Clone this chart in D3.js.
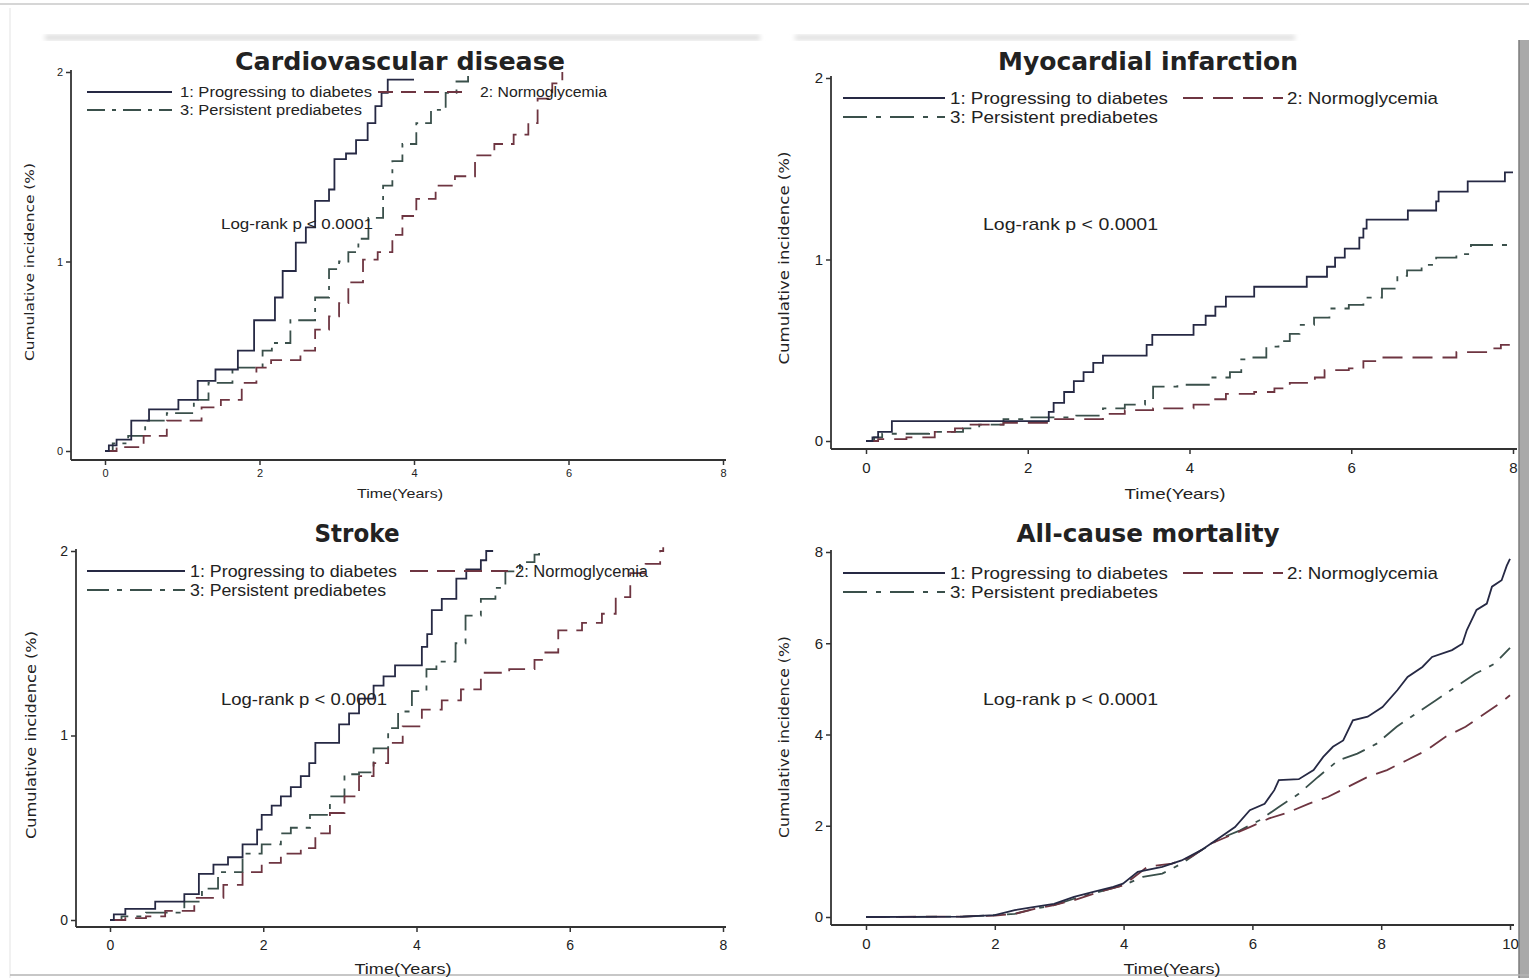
<!DOCTYPE html>
<html>
<head>
<meta charset="utf-8">
<script src="https://cdn.jsdelivr.net/npm/d3@7"></script>
<style>
body { margin: 0; background: #fff; }
svg text { fill: #222; }
</style>
</head>
<body>
<svg id="chart" width="1529" height="978"></svg>
<script>

// ---- data ----
var seriesLabels = ["1: Progressing to diabetes", "2: Normoglycemia", "3: Persistent prediabetes"];
var titles = ["Cardiovascular disease", "Myocardial infarction", "Stroke", "All-cause mortality"];
var xTicks8 = [0, 2, 4, 6, 8];
var xTicks10 = [0, 2, 4, 6, 8, 10];
var yTicks2 = [0, 1, 2];
var yTicks8 = [0, 2, 4, 6, 8];

// [time (years), cumulative incidence (%)]
var cvdProg = [[0,0],[0.05,0.03],[0.15,0.06],[0.34,0.16],[0.57,0.22],[0.95,0.27],[1.2,0.37],[1.43,0.43],[1.72,0.53],[1.93,0.69],[2.2,0.81],[2.3,0.95],[2.47,1.1],[2.6,1.18],[2.72,1.32],[2.9,1.38],[2.97,1.54],[3.12,1.57],[3.25,1.64],[3.4,1.73],[3.5,1.82],[3.58,1.89],[3.66,1.96],[4.0,1.96]];
var cvdNormo = [[0,0],[0.15,0.02],[0.5,0.08],[0.8,0.16],[1.25,0.23],[1.5,0.27],[1.77,0.36],[1.96,0.44],[2.15,0.48],[2.53,0.53],[2.72,0.64],[2.9,0.71],[3.03,0.78],[3.15,0.89],[3.34,1.01],[3.53,1.05],[3.72,1.14],[3.85,1.24],[4.03,1.33],[4.28,1.4],[4.53,1.45],[4.79,1.56],[5.04,1.62],[5.29,1.67],[5.48,1.73],[5.6,1.86],[5.79,1.94],[5.92,2.0]];
var cvdPers = [[0,0],[0.1,0.04],[0.3,0.08],[0.52,0.16],[0.8,0.2],[1.15,0.27],[1.34,0.36],[1.65,0.44],[2.04,0.53],[2.16,0.57],[2.4,0.69],[2.72,0.81],[2.9,0.96],[3.03,1.0],[3.15,1.05],[3.28,1.12],[3.41,1.23],[3.6,1.4],[3.72,1.53],[3.85,1.62],[4.03,1.73],[4.22,1.8],[4.41,1.89],[4.55,1.95],[4.7,1.99]];

var miProg = [[0,0],[0.08,0.02],[0.15,0.05],[0.32,0.11],[2.26,0.16],[2.32,0.21],[2.45,0.27],[2.57,0.33],[2.69,0.38],[2.81,0.43],[2.93,0.47],[3.47,0.53],[3.54,0.585],[4.05,0.64],[4.2,0.69],[4.32,0.74],[4.45,0.795],[4.8,0.85],[5.45,0.905],[5.7,0.96],[5.8,1.01],[5.92,1.06],[6.1,1.12],[6.15,1.17],[6.19,1.22],[6.7,1.27],[7.05,1.32],[7.08,1.374],[7.44,1.43],[7.9,1.48],[8.0,1.48]];
var miNormo = [[0,0],[0.15,0.01],[0.5,0.02],[0.85,0.05],[1.1,0.07],[1.2,0.09],[1.7,0.1],[2.25,0.12],[2.93,0.15],[3.2,0.17],[3.55,0.18],[4.05,0.2],[4.27,0.23],[4.45,0.26],[4.8,0.27],[5.05,0.29],[5.24,0.32],[5.55,0.35],[5.67,0.39],[5.97,0.4],[6.15,0.44],[6.35,0.46],[7.3,0.49],[7.7,0.51],[7.85,0.53],[8.0,0.53]];
var miPers = [[0,0],[0.1,0.02],[0.2,0.04],[0.78,0.05],[1.2,0.07],[1.4,0.09],[1.7,0.12],[2.0,0.13],[2.6,0.14],[2.93,0.18],[3.2,0.2],[3.45,0.23],[3.55,0.3],[3.85,0.31],[4.27,0.35],[4.5,0.38],[4.64,0.45],[4.76,0.46],[4.95,0.52],[5.1,0.55],[5.24,0.59],[5.36,0.64],[5.54,0.68],[5.73,0.73],[5.97,0.75],[6.15,0.79],[6.38,0.84],[6.57,0.91],[6.69,0.94],[6.87,0.97],[7.05,1.01],[7.3,1.03],[7.48,1.08],[8.0,1.08]];

var stProg = [[0,0],[0.05,0.03],[0.2,0.06],[0.59,0.1],[0.97,0.14],[1.16,0.25],[1.35,0.3],[1.54,0.34],[1.73,0.41],[1.92,0.49],[1.98,0.57],[2.11,0.62],[2.23,0.67],[2.36,0.72],[2.49,0.78],[2.6,0.85],[2.68,0.96],[2.99,1.06],[3.12,1.12],[3.25,1.2],[3.44,1.27],[3.57,1.32],[3.72,1.38],[4.07,1.48],[4.14,1.55],[4.2,1.68],[4.33,1.74],[4.52,1.85],[4.65,1.9],[4.84,1.95],[4.91,2.0],[5.0,2.0]];
var stNormo = [[0,0],[0.2,0.01],[0.47,0.02],[0.72,0.05],[1.1,0.12],[1.48,0.19],[1.73,0.26],[1.98,0.31],[2.23,0.36],[2.49,0.39],[2.68,0.47],[2.87,0.58],[3.06,0.67],[3.25,0.78],[3.44,0.85],[3.63,0.96],[3.82,1.05],[4.07,1.14],[4.33,1.19],[4.58,1.25],[4.84,1.34],[5.21,1.36],[5.54,1.41],[5.66,1.45],[5.85,1.57],[6.16,1.61],[6.42,1.66],[6.6,1.75],[6.79,1.88],[6.99,1.93],[7.18,2.0],[7.22,2.02]];
var stPers = [[0,0],[0.15,0.02],[0.47,0.04],[0.97,0.1],[1.2,0.17],[1.41,0.26],[1.73,0.36],[1.98,0.41],[2.23,0.47],[2.36,0.5],[2.61,0.57],[2.87,0.67],[3.06,0.79],[3.25,0.8],[3.44,0.93],[3.63,1.04],[3.76,1.13],[3.94,1.24],[4.13,1.36],[4.26,1.4],[4.51,1.5],[4.64,1.65],[4.84,1.74],[5.03,1.8],[5.16,1.89],[5.35,1.94],[5.54,1.98],[5.6,2.0]];

var acmProg = [[0,0],[1.5,0.01],[2.0,0.04],[2.31,0.15],[2.62,0.22],[2.92,0.29],[3.23,0.44],[3.53,0.55],[3.84,0.66],[3.99,0.73],[4.22,0.99],[4.6,1.1],[4.9,1.24],[5.2,1.46],[5.5,1.75],[5.73,1.97],[5.96,2.34],[6.19,2.48],[6.34,2.78],[6.41,3.0],[6.72,3.02],[6.95,3.22],[7.1,3.51],[7.25,3.73],[7.41,3.87],[7.56,4.31],[7.79,4.39],[8.02,4.6],[8.25,4.97],[8.41,5.26],[8.64,5.48],[8.79,5.7],[9.1,5.85],[9.26,5.99],[9.33,6.29],[9.48,6.73],[9.64,6.87],[9.72,7.24],[9.87,7.38],[9.95,7.7],[10,7.85]];
var acmNormo = [[0,0],[1.5,0.01],[2.0,0.03],[2.31,0.07],[2.62,0.18],[2.92,0.26],[3.23,0.37],[3.69,0.58],[3.99,0.69],[4.37,1.1],[4.75,1.17],[5.05,1.32],[5.36,1.61],[5.66,1.79],[5.96,1.97],[6.26,2.16],[6.57,2.3],[6.87,2.48],[7.17,2.63],[7.48,2.85],[7.79,3.07],[8.09,3.22],[8.39,3.43],[8.7,3.65],[9.0,3.95],[9.31,4.17],[9.61,4.46],[9.84,4.68],[10,4.86]];
var acmPers = [[0,0],[1.5,0.01],[2.0,0.04],[2.31,0.07],[2.62,0.18],[2.92,0.26],[3.23,0.4],[3.69,0.58],[3.99,0.69],[4.3,0.88],[4.6,0.95],[4.9,1.17],[5.2,1.46],[5.5,1.72],[5.81,1.9],[6.11,2.12],[6.41,2.41],[6.72,2.7],[7.02,3.07],[7.33,3.43],[7.63,3.58],[7.93,3.8],[8.24,4.17],[8.54,4.46],[8.85,4.75],[9.15,5.04],[9.46,5.33],[9.76,5.55],[10,5.9]];

// ---- styles ----
var colors = ["#262944", "#6e3541", "#3a504b"];
var narrow = "'Liberation Sans Narrow', 'Arial Narrow', 'Liberation Sans', sans-serif";
var wide = "'DejaVu Sans', Verdana, sans-serif";

// ---- layout of the four panels ----
var panels = [
  { title: titles[0], series: [cvdProg, cvdNormo, cvdPers], xMax: 8, yMax: 2, xTicks: xTicks8, yTicks: yTicks2,
    x0: 105, x1: 723, y0: 451, y1: 72, axX: 71, axY: 460, axTop: 70, axRight: 726,
    tfs: 11, tpad: 4, tcx: 400, tby: 70, tw: 330,
    leg: [92, 110], l1: [87, 172], t1: 180, l2: [378, 470], t2: 480, lfs: 14, lw: [192, 127, 182],
    lrx: 221, lry: 229, lrw: 152, ylx: 34, yly: 262, ylw: 198, ylfs: 12,
    xlx: 400, xly: 498, xlw: 86, xlfs: 12, dash: [15, 8], dashdot: [18, 7, 4, 7], curve: d3.curveStepAfter },
  { title: titles[1], series: [miProg, miNormo, miPers], xMax: 8, yMax: 2, xTicks: xTicks8, yTicks: yTicks2,
    x0: 866, x1: 1513, y0: 441, y1: 78, axX: 831, axY: 449, axTop: 76, axRight: 1517,
    tfs: 15, tpad: 8, tcx: 1148, tby: 70, tw: 300,
    leg: [98, 117], l1: [843, 945], t1: 950, l2: [1183, 1283], t2: 1287, lfs: 17, lw: [218, 151, 208],
    lrx: 983, lry: 230, lrw: 175, ylx: 789, yly: 258, ylw: 213, ylfs: 14,
    xlx: 1175, xly: 499, xlw: 101, xlfs: 15, dash: [20, 10], dashdot: [24, 9, 5, 9], curve: d3.curveStepAfter },
  { title: titles[2], series: [stProg, stNormo, stPers], xMax: 8, yMax: 2, xTicks: xTicks8, yTicks: yTicks2,
    x0: 110, x1: 723, y0: 920, y1: 551, axX: 76, axY: 927, axTop: 549, axRight: 726,
    tfs: 14, tpad: 8, tcx: 357, tby: 542, tw: 85,
    leg: [571, 590], l1: [87, 185], t1: 190, l2: [410, 508], t2: 515, lfs: 16, lw: [207, 133, 196],
    lrx: 221, lry: 705, lrw: 166, ylx: 36, yly: 735, ylw: 208, ylfs: 14,
    xlx: 403, xly: 974, xlw: 97, xlfs: 15, dash: [18, 9], dashdot: [22, 8, 5, 8], curve: d3.curveStepAfter },
  { title: titles[3], series: [acmProg, acmNormo, acmPers], xMax: 10, yMax: 8, xTicks: xTicks10, yTicks: yTicks8,
    x0: 866, x1: 1510, y0: 917, y1: 552, axX: 831, axY: 925, axTop: 550, axRight: 1514,
    tfs: 15, tpad: 8, tcx: 1148, tby: 542, tw: 263,
    leg: [573, 592], l1: [843, 945], t1: 950, l2: [1183, 1283], t2: 1287, lfs: 17, lw: [218, 151, 208],
    lrx: 983, lry: 705, lrw: 175, ylx: 789, yly: 737, ylw: 202, ylfs: 14,
    xlx: 1172, xly: 974, xlw: 97, xlfs: 15, dash: [20, 10], dashdot: [24, 9, 5, 9], curve: d3.curveLinear }
];

var svg = d3.select("#chart");

// ---- screenshot frame ----
var defs = svg.append("defs");
defs.append("filter").attr("id", "blur").append("feGaussianBlur").attr("stdDeviation", 2.5);
svg.append("line").attr("x1", 0).attr("x2", 1529).attr("y1", 4).attr("y2", 4)
  .attr("stroke", "#c8c8c8").attr("stroke-width", 1.5);
svg.append("line").attr("x1", 10).attr("x2", 10).attr("y1", 8).attr("y2", 978)
  .attr("stroke", "#ececec").attr("stroke-width", 1.5);
svg.append("rect").attr("x", 45).attr("y", 35).attr("width", 715).attr("height", 5)
  .attr("fill", "#d8d8d8").attr("filter", "url(#blur)");
svg.append("rect").attr("x", 795).attr("y", 35).attr("width", 500).attr("height", 5)
  .attr("fill", "#dcdcdc").attr("filter", "url(#blur)");
svg.append("rect").attr("x", 1519).attr("y", 40).attr("width", 10).attr("height", 938).attr("fill", "#a9a9a9");
svg.append("line").attr("x1", 1519).attr("x2", 1519).attr("y1", 40).attr("y2", 978)
  .attr("stroke", "#7d7d7d").attr("stroke-width", 1.5);
svg.append("line").attr("x1", 10).attr("x2", 1529).attr("y1", 975).attr("y2", 975)
  .attr("stroke", "#b5b5b5").attr("stroke-width", 1.5);

panels.forEach(function(p) {
  var x = d3.scaleLinear().domain([0, p.xMax]).range([p.x0, p.x1]);
  var y = d3.scaleLinear().domain([0, p.yMax]).range([p.y0, p.y1]);
  var g = svg.append("g");

  // axis lines (Stata style, offset from the data region)
  g.append("line").attr("x1", p.axX).attr("x2", p.axX).attr("y1", p.axTop).attr("y2", p.axY)
    .attr("stroke", "#333").attr("stroke-width", 1.8);
  g.append("line").attr("x1", p.axX).attr("x2", p.axRight).attr("y1", p.axY).attr("y2", p.axY)
    .attr("stroke", "#333").attr("stroke-width", 1.8);

  var xAxis = d3.axisBottom(x).tickValues(p.xTicks).tickSize(5).tickPadding(p.tpad).tickFormat(d3.format("d"));
  var gx = g.append("g").attr("transform", "translate(0," + p.axY + ")").call(xAxis);
  var yAxis = d3.axisLeft(y).tickValues(p.yTicks).tickSize(5).tickPadding(3).tickFormat(d3.format("d"));
  var gy = g.append("g").attr("transform", "translate(" + p.axX + ",0)").call(yAxis);
  [gx, gy].forEach(function(a) {
    a.select(".domain").remove();
    a.selectAll(".tick line").attr("stroke", "#333").attr("stroke-width", 1.5);
    a.selectAll(".tick text").attr("font-family", narrow).attr("font-size", p.tfs).attr("fill", "#222");
  });

  // curves
  var line = d3.line().x(function(d) { return x(d[0]); }).y(function(d) { return y(d[1]); }).curve(p.curve);
  var dashes = [null, p.dash.join(","), p.dashdot.join(",")];
  [2, 1, 0].forEach(function(i) {
    g.append("path").datum(p.series[i])
      .attr("d", line)
      .attr("fill", "none")
      .attr("stroke", colors[i])
      .attr("stroke-width", 1.8)
      .attr("stroke-dasharray", dashes[i]);
  });

  // title
  g.append("text").attr("x", p.tcx).attr("y", p.tby).attr("text-anchor", "middle")
    .attr("font-family", wide).attr("font-weight", "bold").attr("font-size", 24)
    .attr("textLength", p.tw).attr("lengthAdjust", "spacingAndGlyphs").attr("fill", "#111")
    .text(p.title);

  // legend
  var legItems = [
    { i: 0, lx: p.l1, tx: p.t1, y: p.leg[0] },
    { i: 1, lx: p.l2, tx: p.t2, y: p.leg[0] },
    { i: 2, lx: p.l1, tx: p.t1, y: p.leg[1] }
  ];
  legItems.forEach(function(it) {
    g.append("line").attr("x1", it.lx[0]).attr("x2", it.lx[1]).attr("y1", it.y).attr("y2", it.y)
      .attr("stroke", colors[it.i]).attr("stroke-width", 1.8).attr("stroke-dasharray", dashes[it.i]);
    g.append("text").attr("x", it.tx).attr("y", it.y).attr("dy", "0.35em")
      .attr("font-family", narrow).attr("font-size", p.lfs)
      .attr("textLength", p.lw[it.i]).attr("lengthAdjust", "spacingAndGlyphs")
      .text(seriesLabels[it.i]);
  });

  // log-rank annotation
  g.append("text").attr("x", p.lrx).attr("y", p.lry)
    .attr("font-family", narrow).attr("font-size", p.lfs)
    .attr("textLength", p.lrw).attr("lengthAdjust", "spacingAndGlyphs")
    .text("Log-rank p < 0.0001");

  // axis titles
  g.append("text").attr("transform", "translate(" + p.ylx + "," + p.yly + ") rotate(-90)")
    .attr("text-anchor", "middle").attr("font-family", wide).attr("font-size", p.ylfs)
    .attr("textLength", p.ylw).attr("lengthAdjust", "spacingAndGlyphs").attr("fill", "#333")
    .text("Cumulative incidence (%)");
  g.append("text").attr("x", p.xlx).attr("y", p.xly).attr("text-anchor", "middle")
    .attr("font-family", narrow).attr("font-size", p.xlfs)
    .attr("textLength", p.xlw).attr("lengthAdjust", "spacingAndGlyphs")
    .text("Time(Years)");
});

</script>
</body>
</html>
